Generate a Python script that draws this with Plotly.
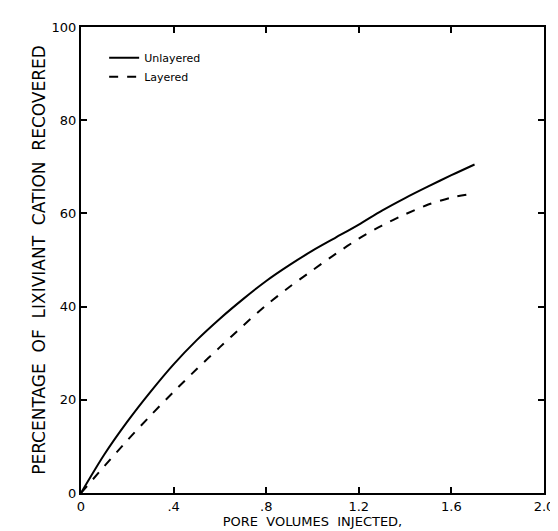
import plotly.graph_objects as go

pore_volumes = [0, 0.1, 0.2, 0.3, 0.4, 0.5, 0.6, 0.7, 0.8, 0.9, 1.0, 1.1, 1.2, 1.3, 1.4, 1.5, 1.6, 1.7]
unlayered = [0, 8.2, 15.3, 21.7, 27.6, 32.8, 37.4, 41.6, 45.5, 48.9, 52.0, 54.8, 57.6, 60.6, 63.3, 65.8, 68.2, 70.5]
layered = [0, 5.7, 11.3, 16.6, 21.7, 26.6, 31.3, 35.9, 40.3, 44.2, 47.8, 51.3, 54.6, 57.4, 59.8, 61.9, 63.4, 64.3]

x_tickvals = [0, 0.4, 0.8, 1.2, 1.6, 2.0]
x_ticktext = ["0", ".4", ".8", "1.2", "1.6", "2.0"]
y_tickvals = [0, 20, 40, 60, 80, 100]
y_ticktext = ["0", "20", "40", "60", "80", "100"]

FONT = "DejaVu Sans, Liberation Sans, sans-serif"

fig = go.Figure()
fig.add_trace(go.Scatter(x=pore_volumes, y=unlayered, mode="lines", name="Unlayered",
                         line=dict(color="black", width=2, shape="spline", smoothing=0.8)))
fig.add_trace(go.Scatter(x=pore_volumes, y=layered, mode="lines", name="Layered",
                         line=dict(color="black", width=2, dash="dash", shape="spline", smoothing=0.8)))

axis_common = dict(showline=True, linecolor="black", linewidth=2, mirror="ticks",
                   ticks="inside", ticklen=6, tickwidth=1.5, tickcolor="black",
                   showgrid=False, zeroline=False,
                   tickfont=dict(family=FONT, size=13, color="black"))

fig.update_layout(
    width=558, height=531,
    margin=dict(l=73, r=20, t=16, b=46),
    paper_bgcolor="white", plot_bgcolor="white",
    showlegend=True,
    legend=dict(x=0.05, y=0.965, xanchor="left", yanchor="top",
                bgcolor="rgba(0,0,0,0)", font=dict(family=FONT, size=11, color="black"),
                tracegroupgap=0, itemwidth=30),
    xaxis=dict(range=[0, 2.0], tickvals=x_tickvals, ticktext=x_ticktext,
               title=dict(text="PORE  VOLUMES  INJECTED,", standoff=2,
                          font=dict(family=FONT, size=13, color="black")),
               **axis_common),
    yaxis=dict(range=[0, 100], tickvals=y_tickvals, ticktext=y_ticktext,
               title=dict(text="PERCENTAGE  OF  LIXIVIANT  CATION  RECOVERED", standoff=2,
                          font=dict(family=FONT, size=17, color="black")),
               **axis_common),
)

fig.write_html("out.html")
